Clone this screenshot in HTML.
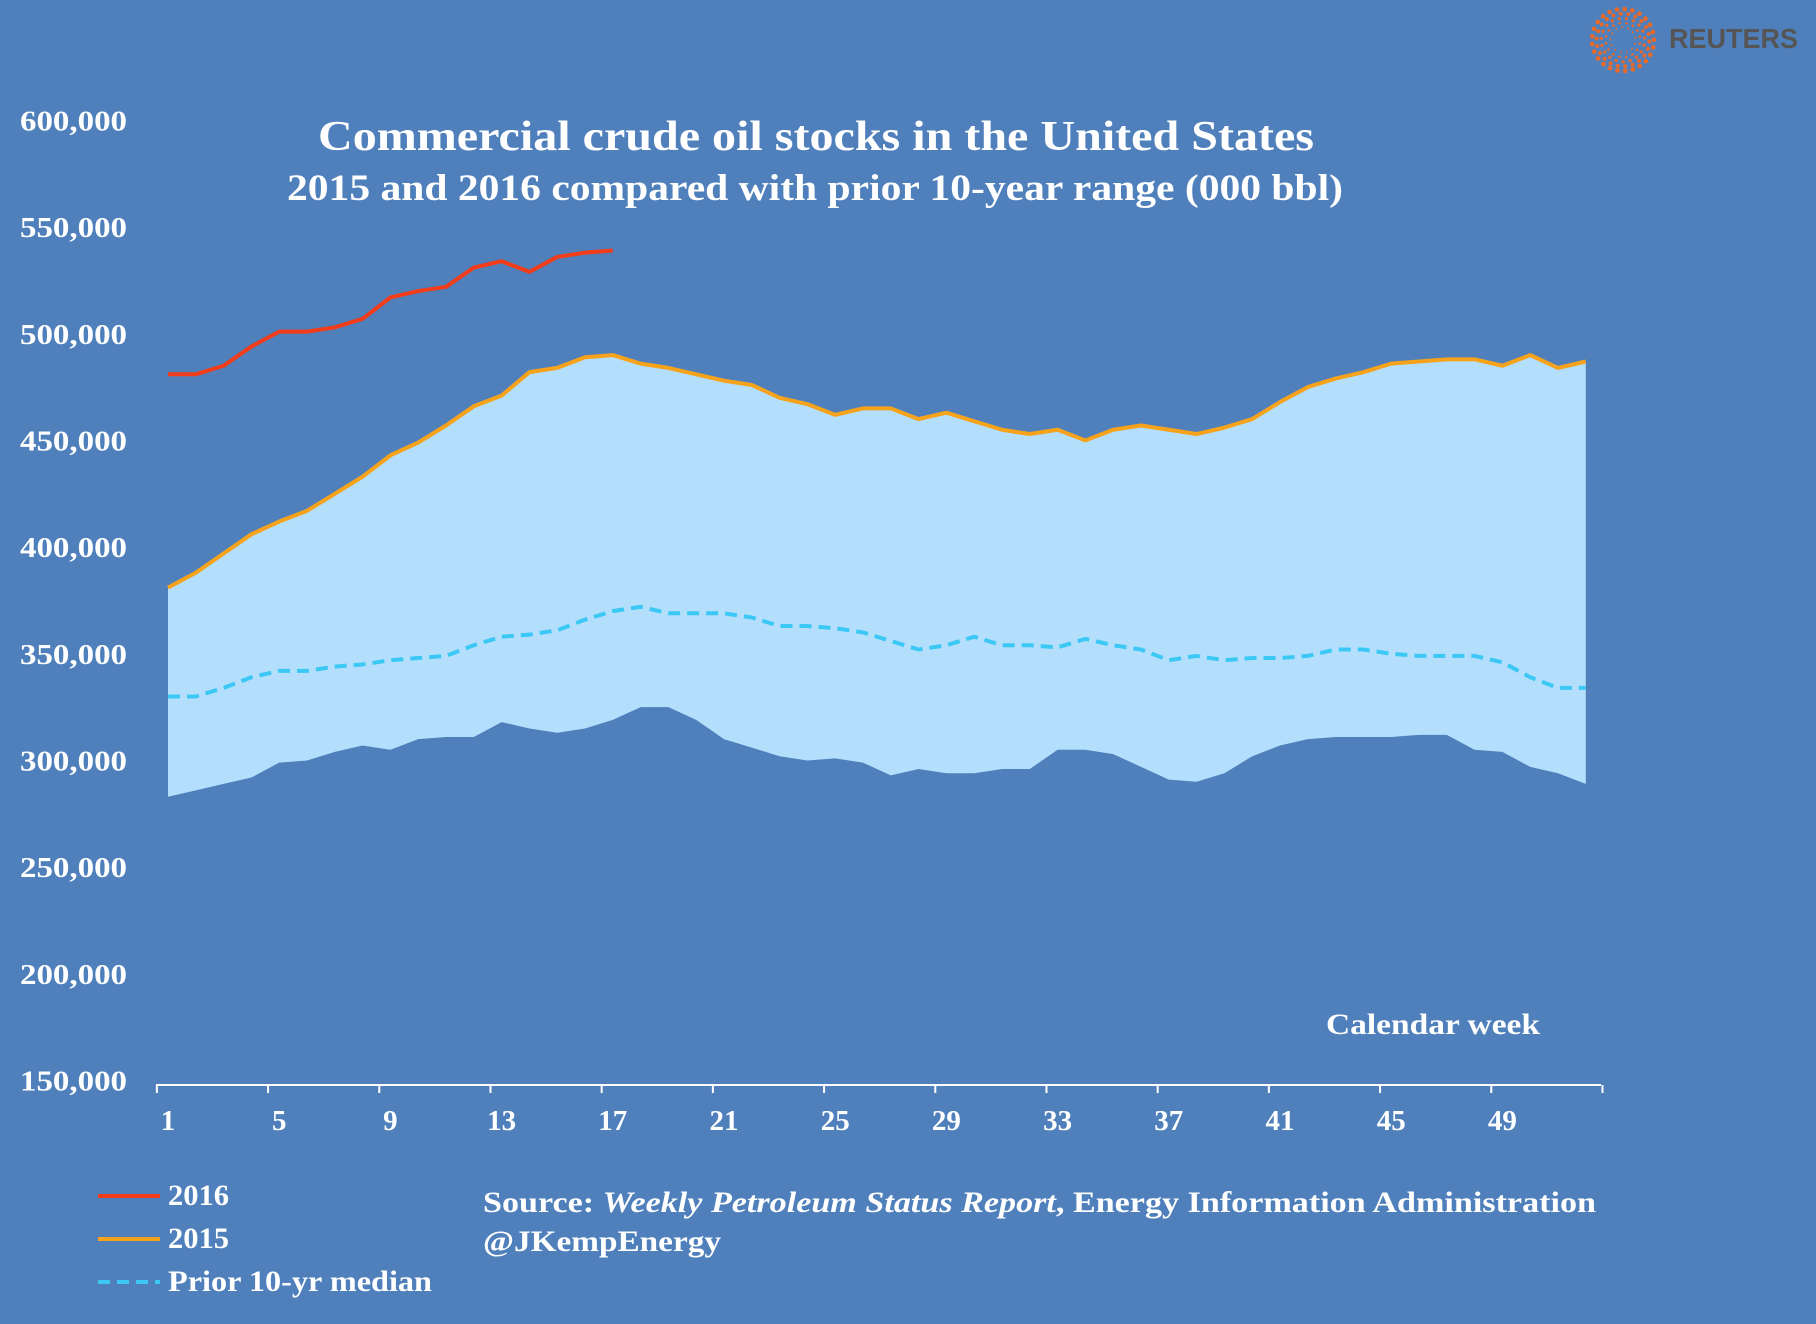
<!DOCTYPE html>
<html><head><meta charset="utf-8"><style>
html,body{margin:0;padding:0;background:#4F80BC;}
svg{display:block;}
text{font-family:"Liberation Serif",serif;fill:#fff;}
</style></head><body>
<svg id="chart" width="1816" height="1324" viewBox="0 0 1816 1324" xmlns="http://www.w3.org/2000/svg">
<rect width="1816" height="1324" fill="#4F80BC"/>
<g id="logo"></g>
<text x="1669" y="48" textLength="129" lengthAdjust="spacingAndGlyphs" style="font-family:'Liberation Sans',sans-serif;fill:#555;font-size:28px;font-weight:bold">REUTERS</text>
<text x="816" y="150" text-anchor="middle" textLength="996" lengthAdjust="spacingAndGlyphs" style="font-size:42px;font-weight:bold">Commercial crude oil stocks in the United States</text>
<text x="815" y="200" text-anchor="middle" textLength="1056" lengthAdjust="spacingAndGlyphs" style="font-size:37px;font-weight:bold">2015 and 2016 compared with prior 10-year range (000 bbl)</text>
<g id="plot"></g>
<text x="1326" y="1034" textLength="214" lengthAdjust="spacingAndGlyphs" style="font-size:30px;font-weight:bold">Calendar week</text>
<g>
<line x1="98" y1="1196" x2="160" y2="1196" stroke="#F23C1A" stroke-width="4"/>
<text x="168" y="1205" textLength="61" lengthAdjust="spacingAndGlyphs" style="font-size:30px;font-weight:bold">2016</text>
<line x1="98" y1="1239" x2="160" y2="1239" stroke="#F7A21B" stroke-width="4"/>
<text x="168" y="1248" textLength="61" lengthAdjust="spacingAndGlyphs" style="font-size:30px;font-weight:bold">2015</text>
<line x1="98" y1="1282" x2="160" y2="1282" stroke="#3CC8F5" stroke-width="4" stroke-dasharray="12,7"/>
<text x="168" y="1291" textLength="264" lengthAdjust="spacingAndGlyphs" style="font-size:30px;font-weight:bold">Prior 10-yr median</text>
</g>
<text x="483" y="1212" textLength="1113" lengthAdjust="spacingAndGlyphs" style="font-size:30px;font-weight:bold">Source: <tspan style="font-style:italic">Weekly Petroleum Status Report</tspan>, Energy Information Administration</text>
<text x="483" y="1251" textLength="238" lengthAdjust="spacingAndGlyphs" style="font-size:30px;font-weight:bold">@JKempEnergy</text>
</svg>
<script>
const weeks = Array.from({length:52},(_,i)=>i+1);
const yTicks = [150000,200000,250000,300000,350000,400000,450000,500000,550000,600000];
const xTickLabels = [1,5,9,13,17,21,25,29,33,37,41,45,49];
const s2016 = [481,481,485,494,501,501,503,507,517,520,522,531,534,529,536,538,539];
const s2015 = [381,388,397,406,412,417,425,433,443,449,457,466,471,482,484,489,490,486,484,481,478,476,470,467,462,465,465,460,463,459,455,453,455,450,455,457,455,453,456,460,468,475,479,482,486,487,488,488,485,490,484,487];
const rangeMax = [381,388,397,406,412,417,425,433,443,449,457,466,471,482,484,489,490,486,484,481,478,476,470,467,462,465,465,460,463,459,455,453,455,450,455,457,455,453,456,460,468,475,479,482,486,487,488,488,485,490,484,487];
const rangeMin = [283,286,289,292,299,300,304,307,305,310,311,311,318,315,313,315,319,325,325,319,310,306,302,300,301,299,293,296,294,294,296,296,305,305,303,297,291,290,294,302,307,310,311,311,311,312,312,305,304,297,294,289];
const median = [330,330,334,339,342,342,344,345,347,348,349,354,358,359,361,366,370,372,369,369,369,367,363,363,362,360,356,352,354,358,354,354,353,357,354,352,347,349,347,348,348,349,352,352,350,349,349,349,346,339,334,334];

const NS='http://www.w3.org/2000/svg';
const X = w => 168 + (w-1)*27.8;
const Y = v => 1080.5 - (v-150000)*(1080.5-120.4)/450000;
const K = v => Y(v*1000);
const plot = document.getElementById('plot');
function mk(tag, attrs){const e=document.createElementNS(NS,tag);for(const k in attrs)e.setAttribute(k,attrs[k]);plot.appendChild(e);return e;}

let d='M'+rangeMax.map((v,i)=>X(i+1)+','+K(v)).join('L');
for(let i=rangeMin.length-1;i>=0;i--) d+='L'+X(i+1)+','+K(rangeMin[i]);
const band=mk('path',{d:d+'Z',fill:'#B3DFFC'});



yTicks.forEach(v=>{
  const t=mk('text',{x:127,y:Y(v)+10,'text-anchor':'end',textLength:107,lengthAdjust:'spacingAndGlyphs',style:'font-size:29px;font-weight:bold'});
  t.textContent=v.toLocaleString('en-US');
  
  
});
const ax=mk('line',{x1:156,y1:1085,x2:1601,y2:1085,stroke:'#fff','stroke-width':2});


for(let k=0;k<=13;k++){
  const xx=X(0.6+k*4);
  const tk=mk('line',{x1:xx,y1:1085,x2:xx,y2:1093,stroke:'#fff','stroke-width':2});
  
  
}
xTickLabels.forEach(w=>{
  const t=mk('text',{x:X(w),y:1130,'text-anchor':'middle',style:'font-size:29px;font-weight:bold'});
  t.textContent=w;
  
  
});
function line(arr,color,name,dash){
  const p=mk('path',{d:'M'+arr.map((v,i)=>X(i+1)+','+K(v)).join('L'),fill:'none',stroke:color,'stroke-width':4,'stroke-linejoin':'round'});
  if(dash)p.setAttribute('stroke-dasharray',dash);
  
  
}
line(median,'#3CC8F5','median-line','12,7');
line(s2015,'#F7A21B','series-2015-line');
line(s2016,'#F23C1A','series-2016-line');

const logo=document.getElementById('logo');
for(let r=1;r<=5;r++){
  const rad=8+r*4.6, n=10+r*3;
  for(let j=0;j<n;j++){
    const a=j/n*2*Math.PI+r*0.3;
    const c=document.createElementNS(NS,'circle');
    c.setAttribute('cx',1623+rad*Math.cos(a));c.setAttribute('cy',40+rad*Math.sin(a));
    c.setAttribute('r',0.6+r*0.35);c.setAttribute('fill','#E8692A');
    logo.appendChild(c);
  }
}
</script>
</body></html>
